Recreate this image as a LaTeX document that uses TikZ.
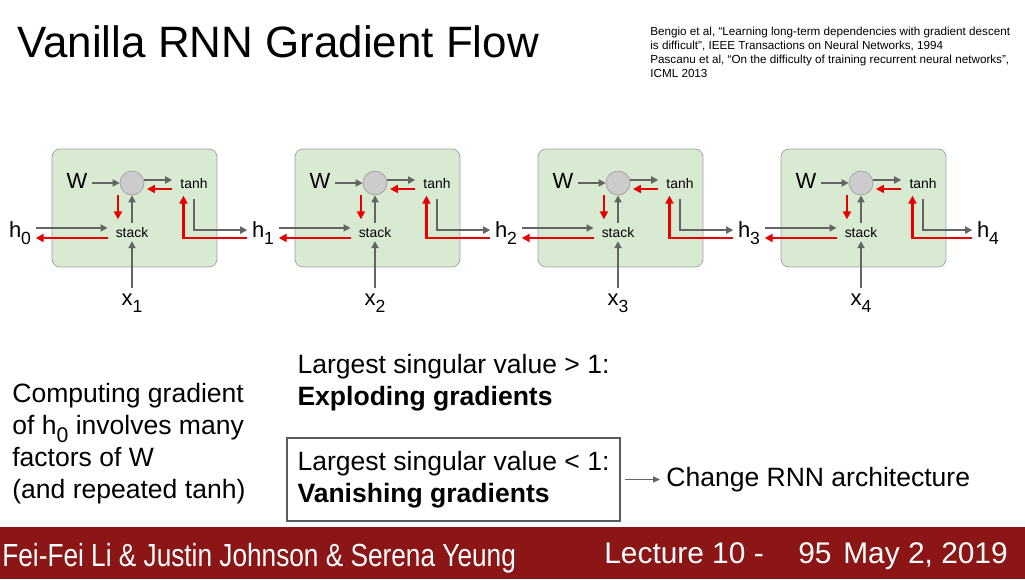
\documentclass[tikz,border=0pt]{standalone}
\usepackage{fontspec}
\setmainfont{Liberation Sans}
\newfontfamily\footfont{Liberation Sans}[FakeStretch=0.82]
\usetikzlibrary{arrows.meta, positioning}
\definecolor{cellgreen}{RGB}{217,234,211}
\definecolor{celledge} {RGB}{160,160,160}
\definecolor{dotgray}  {RGB}{204,204,204}
\definecolor{fwdgray}  {RGB}{100,100,100}
\definecolor{backred}  {RGB}{230,0,0}
\definecolor{cardinal} {RGB}{140,21,21}
\definecolor{boxgray}  {RGB}{90,90,90}
\newcommand{\lowsub}[1]{\raisebox{-0.6ex}[0pt][0pt]{\scalebox{0.8}{#1}}}

\begin{document}
\begin{tikzpicture}[x=0.02cm, y=-0.02cm,
  cellbox/.style={draw=celledge, fill=cellgreen, rounded corners=4.5pt,
    minimum width=3.3cm, minimum height=2.36cm},
  dot/.style={circle, draw=celledge, fill=dotgray,
    minimum size=0.48cm, inner sep=0pt},
  op/.style={font=\fontsize{7.9}{9}\selectfont, inner xsep=4.5pt,
    inner ysep=2pt, text height=6pt, text depth=0pt},
  var/.style={font=\fontsize{12.5}{14}\selectfont, inner sep=2.5pt,
    text height=9pt, text depth=3pt},
  fwd/.style={draw=fwdgray, line width=1pt,
    -{Triangle[length=4pt,width=4pt]}},
  back/.style={draw=backred, line width=1.2pt,
    -{Triangle[length=4.5pt,width=4.5pt]}},
  body/.style={font=\fontsize{15.1}{18.2}\selectfont, align=left,
    inner sep=0pt},
  gradbox/.style={body, minimum width=6.66cm, minimum height=1.66cm},
  foot/.style={font=\fontsize{17}{20}\selectfont,
    text=white, inner sep=0pt, anchor=base west}
]
  \fill[white] (0,0) rectangle (1025,579);
  \useasboundingbox (0,0) rectangle (1025,579);

  % Title and references
  \node[font=\fontsize{25}{30}\selectfont, anchor=base west,
    inner sep=0pt] (title) at (17,57) {Vanilla RNN Gradient Flow};
  \node[font=\fontsize{6.65}{8}\selectfont, align=left,
    anchor=north west, inner sep=0pt] (refs) at (650,27)
    {Bengio et al, “Learning long-term dependencies with gradient descent\\
     is difficult”, IEEE Transactions on Neural Networks, 1994\\
     Pascanu et al, “On the difficulty of training recurrent neural networks”,\\
     ICML 2013};

  % Hidden states
  \node[var] (h0) at (20,232) {h\lowsub{0}};
  \foreach \k in {1,2,3}
    \node[var] (h\k) at ({52+243*\k-32},232) {h\lowsub{\k}};
  \node[var] (h4) at (988,232) {h\lowsub{4}};

  % Unrolled cells
  \foreach \i [evaluate=\i as \ox using {52+243*(\i-1)},
               evaluate=\i as \p using {int(\i-1)}] in {1,2,3,4} {
    \node[cellbox] (cell\i) at (\ox+82.5,208) {};
    \node[dot] (dot\i) at (\ox+80,183) {};
    \node[var] (W\i) at (\ox+25,183) {W};
    \node[op] (tanh\i) at (\ox+142,183) {tanh};
    \node[op] (stack\i) at (\ox+80,232) {stack};
    \node[var] (x\i) at (\ox+80,300) {x\lowsub{\i}};
    % forward pass
    \draw[fwd] (W\i) -- (dot\i);
    \draw[fwd] ([yshift=1.7pt]dot\i.east) -- ([yshift=1.7pt]tanh\i.west);
    \draw[fwd] (stack\i) -- (dot\i);
    \draw[fwd, shorten <=-2pt] (x\i) -- (stack\i);
    \draw[fwd] ([yshift=2.3pt]h\p.east) -- ([yshift=2.3pt]stack\i.west);
    \draw[fwd, shorten <=4pt] (tanh\i.south) |- ([yshift=1.1pt]h\i.west);
    % backward pass
    \draw[back, shorten >=1.5pt] ([yshift=-3.4pt]tanh\i.west)
      -- ([yshift=-3.4pt]dot\i.east);
    \draw[back, shorten >=2pt] ([xshift=-8pt]dot\i.south)
      -- ([xshift=-8pt]stack\i.north);
    \draw[back] ([yshift=-3.4pt]stack\i.west) -- ([yshift=-3.4pt]h\p.east);
    \draw[back, shorten >=2pt] ([yshift=-3.6pt]h\i.west)
      -| ([xshift=-6pt]tanh\i.south);
  }

  % Notes
  \node[body, anchor=north west] (note) at (12,383)
    {Computing gradient\\of h\lowsub{0} involves many\\factors of W\\
     (and repeated tanh)};
  \node[gradbox, draw=boxgray, line width=1.4pt] (vanish) at (453.5,479.5)
    {Largest singular value < 1:\\\textbf{Vanishing gradients}};
  \node[gradbox, above=0.24cm of vanish] (explode)
    {Largest singular value > 1:\\\textbf{Exploding gradients}};
  \node[body, anchor=west] (change) at (666,479.5)
    {Change RNN architecture};
  \draw[draw=fwdgray, line width=0.6pt, shorten <=2pt, shorten >=3.4pt,
    -{Triangle[length=4pt,width=3.5pt]}] (vanish.east) -- (change.west);

  % Footer
  \fill[cardinal] (0,527) rectangle (1025,579);
  \node[foot, font=\footfont\fontsize{18.2}{20}\selectfont] (authors)
    at (2,566) {Fei-Fei Li \& Justin Johnson \& Serena Yeung};
  \node[foot] (lecture) at (604,563) {Lecture 10 -};
  \node[foot] (page) at (798,563) {95};
  \node[foot] (date) at (843,563) {May 2, 2019};
\end{tikzpicture}
\end{document}
